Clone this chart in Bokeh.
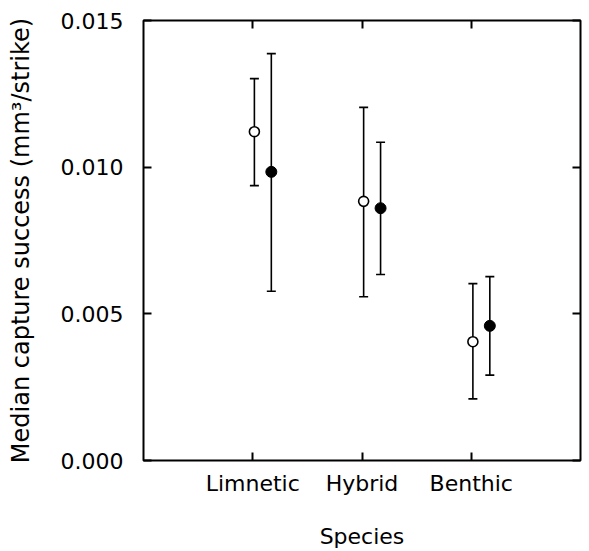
from bokeh.plotting import figure
from bokeh.models import (FactorRange, Range1d, LinearAxis, CategoricalAxis, Whisker,
                          TeeHead, ColumnDataSource, FixedTicker, NumeralTickFormatter)
from bokeh.transform import dodge
from bokeh.embed import file_html
from bokeh.resources import INLINE

species = ["Limnetic", "Hybrid", "Benthic"]
open_median = [0.01121, 0.008835, 0.00405]
open_upper = [0.01302, 0.01204, 0.00603]
open_lower = [0.00937, 0.00558, 0.00210]
filled_median = [0.00984, 0.00860, 0.00459]
filled_upper = [0.01387, 0.01085, 0.00627]
filled_lower = [0.00577, 0.00634, 0.00291]
y_ticks = [0.0, 0.005, 0.010, 0.015]

FONT = "DejaVu Sans"
FS = "22px"

open_src = ColumnDataSource(dict(species=species, median=open_median, upper=open_upper, lower=open_lower))
filled_src = ColumnDataSource(dict(species=species, median=filled_median, upper=filled_upper, lower=filled_lower))

p = figure(width=589, height=551, output_backend="svg", toolbar_location=None,
           x_range=FactorRange(factors=species, range_padding=0.5, range_padding_units="absolute"),
           y_range=Range1d(0, 0.015),
           x_axis_label="Species", y_axis_label="Median capture success (mm³/strike)",
           min_border_left=143, min_border_top=20, min_border_right=9, min_border_bottom=0)

p.xgrid.visible = False
p.ygrid.visible = False
p.outline_line_color = "black"
p.outline_line_width = 2
p.background_fill_color = "white"
p.border_fill_color = "white"

for ax in p.xaxis + p.yaxis:
    ax.axis_line_color = None
    ax.major_tick_in = 8
    ax.major_tick_out = 0
    ax.major_tick_line_width = 2
    ax.minor_tick_line_color = None
    ax.major_label_text_font = FONT
    ax.major_label_text_font_size = FS
    ax.major_label_text_color = "black"
    ax.axis_label_text_font = FONT
    ax.axis_label_text_font_size = FS
    ax.axis_label_text_font_style = "normal"
    ax.axis_label_text_color = "black"

p.yaxis.ticker = FixedTicker(ticks=y_ticks)
p.yaxis.formatter = NumeralTickFormatter(format="0.000")
p.yaxis.major_label_standoff = 20
p.yaxis.axis_label_standoff = 23
p.yaxis.axis_label_text_font_size = "24px"
p.xaxis.major_label_standoff = 10
p.xaxis.axis_label_standoff = 25

# mirrored axes: inward ticks only, labels not painted
right = LinearAxis(ticker=FixedTicker(ticks=y_ticks), major_label_text_font_size="0px",
                   major_label_text_color=None, major_label_standoff=0,
                   axis_line_color=None, major_tick_in=8,
                   major_tick_out=0, major_tick_line_width=2, minor_tick_line_color=None)
p.add_layout(right, "right")
top = CategoricalAxis(major_label_text_font_size="0px", major_label_text_color=None,
                      major_label_standoff=0,
                      axis_line_color=None, major_tick_in=8, major_tick_out=0,
                      major_tick_line_width=2)
p.add_layout(top, "above")

for src, off in ((open_src, 0.015), (filled_src, 0.17)):
    w = Whisker(source=src, base=dodge("species", off, range=p.x_range),
                upper="upper", lower="lower", dimension="height",
                line_width=1.6, line_color="black",
                upper_head=TeeHead(size=9, line_width=1.6, line_color="black"),
                lower_head=TeeHead(size=9, line_width=1.6, line_color="black"))
    p.add_layout(w)

p.scatter(x=dodge("species", 0.015, range=p.x_range), y="median", source=open_src,
          marker="circle", size=10, fill_color="white", line_color="black", line_width=1.6,
          level="overlay")
p.scatter(x=dodge("species", 0.17, range=p.x_range), y="median", source=filled_src,
          marker="circle", size=11, fill_color="black", line_color="black", line_width=1,
          level="overlay")

open("out.html", "w").write(file_html(p, INLINE))
